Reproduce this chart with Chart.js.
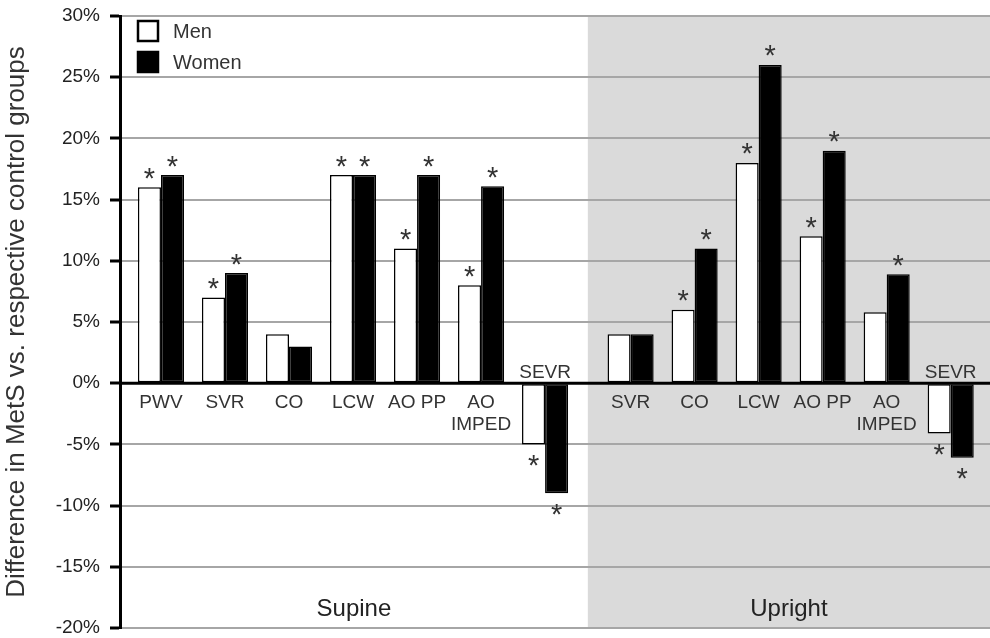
<!DOCTYPE html>
<html>
<head>
<meta charset="utf-8">
<script src="https://cdn.jsdelivr.net/npm/chart.js@4.4.0/dist/chart.umd.min.js"></script>
<style>
html,body{margin:0;padding:0;background:#fff;}
#wrap{width:990px;height:638px;position:relative;}
</style>
</head>
<body>
<div id="wrap"><canvas id="c" width="990" height="638"></canvas></div>
<script>
// ---- data ----
const categories = ['PWV','SVR','CO','LCW','AO PP','AO\nIMPED','SEVR','SVR','CO','LCW','AO PP','AO\nIMPED','SEVR'];
const positions  = ['Supine','Supine','Supine','Supine','Supine','Supine','Supine','Upright','Upright','Upright','Upright','Upright','Upright'];
const groupNames = ['Supine','Upright'];
const seriesNames = ['Men','Women'];
const menValues   = [16, 7, 4, 17, 11, 8, -5, 4, 6, 18, 12, 5.8, -4.1];
const womenValues = [17, 9, 3, 17, 17, 16.1, -9, 4, 11, 26, 19, 8.9, -6.1];
const menSignificant   = [1,1,0,1,1,1,1, 0,1,1,1,0,1];
const womenSignificant = [1,1,0,1,1,1,1, 0,1,1,1,1,1];
const yTickValues = [-20,-15,-10,-5,0,5,10,15,20,25,30];

// ---- layout (not data) ----
const GROUP_EXTRA_GAP = 0.336;
const X_MIN = -0.64, X_MAX = 12.95;
const FONT = "'Liberation Sans', Arial, sans-serif";

const xs = [];
(function(){
  let off = 0;
  for (let i = 0; i < categories.length; i++) {
    if (i > 0 && positions[i] !== positions[i-1]) off += GROUP_EXTRA_GAP;
    xs.push(i + off);
  }
})();

const sigs = [menSignificant, womenSignificant];

function drawStar(ctx, x, cy) {
  const m = ctx.measureText('*');
  const asc = m.actualBoundingBoxAscent, desc = m.actualBoundingBoxDescent;
  const base = cy + (asc - desc) / 2;
  ctx.fillText('*', x, base);
}

const annot = {
  id: 'annot',
  beforeDraw(chart) {
    const {ctx, chartArea: a, scales: {x}} = chart;
    ctx.save();
    for (let i = 1; i < categories.length; i++) {
      if (positions[i] !== positions[i-1]) {
        const split = x.getPixelForValue((xs[i-1] + xs[i]) / 2);
        ctx.fillStyle = '#dadada';
        ctx.fillRect(split, a.top, a.right - split, a.bottom - a.top);
      }
    }
    ctx.restore();
  },
  afterDatasetsDraw(chart) {
    const {ctx, chartArea: a, scales: {x, y}} = chart;
    const y0 = y.getPixelForValue(0);
    ctx.save();
    // zero line
    ctx.strokeStyle = '#000';
    ctx.lineWidth = 3;
    ctx.beginPath();
    ctx.moveTo(a.left, y0);
    ctx.lineTo(a.right, y0);
    ctx.stroke();

    // category labels
    ctx.fillStyle = '#333';
    ctx.font = '19px ' + FONT;
    ctx.textAlign = 'center';
    ctx.textBaseline = 'alphabetic';
    categories.forEach((lab, i) => {
      const cx = x.getPixelForValue(xs[i]);
      const lines = lab.split('\n');
      const neg = menValues[i] < 0 && womenValues[i] < 0;
      if (neg) {
        lines.slice().reverse().forEach((ln, k) => ctx.fillText(ln, cx, y0 - 5 - k * 22));
      } else {
        lines.forEach((ln, k) => ctx.fillText(ln, cx, y0 + 25 + k * 22));
      }
    });

    // asterisks
    ctx.font = '29px ' + FONT;
    ctx.fillStyle = '#333';
    [0, 1].forEach(d => {
      const meta = chart.getDatasetMeta(d);
      meta.data.forEach((el, i) => {
        if (!sigs[d][i]) return;
        const v = d === 0 ? menValues[i] : womenValues[i];
        const cy = v >= 0 ? el.y - 14 : el.y + 16;
        drawStar(ctx, el.x, cy);
      });
    });

    // group labels
    ctx.font = '24px ' + FONT;
    ctx.fillStyle = '#222';
    let start = 0;
    for (let i = 1; i <= categories.length; i++) {
      if (i === categories.length || positions[i] !== positions[i-1]) {
        const left = start === 0 ? a.left : x.getPixelForValue((xs[start-1] + xs[start]) / 2);
        const right = i === categories.length ? a.right : x.getPixelForValue((xs[i-1] + xs[i]) / 2);
        ctx.fillText(positions[start], (left + right) / 2, a.bottom - 12);
        start = i;
      }
    }

    // legend
    const ds = chart.data.datasets;
    ctx.font = '20px ' + FONT;
    ctx.textAlign = 'left';
    ctx.textBaseline = 'middle';
    ds.forEach((d, k) => {
      const bx = a.left + 18, by = a.top + 5 + k * 31, s = 20;
      ctx.fillStyle = d.backgroundColor;
      ctx.fillRect(bx, by, s, s);
      ctx.strokeStyle = '#000';
      ctx.lineWidth = 2.5;
      ctx.strokeRect(bx, by, s, s);
      ctx.fillStyle = '#333';
      ctx.fillText(d.label, bx + 35, by + s / 2 + 1);
    });
    ctx.restore();
  }
};

new Chart(document.getElementById('c'), {
  type: 'bar',
  data: {
    datasets: [
      { label: seriesNames[0], data: menValues.map((v, i) => ({x: xs[i], y: v})),
        backgroundColor: '#ffffff', borderColor: '#000', borderWidth: 1.5, borderSkipped: false },
      { label: seriesNames[1], data: womenValues.map((v, i) => ({x: xs[i], y: v})),
        backgroundColor: '#000000', borderColor: '#000', borderWidth: 1.5, borderSkipped: false }
    ]
  },
  options: {
    responsive: false,
    devicePixelRatio: 1,
    animation: false,
    categoryPercentage: 0.72,
    barPercentage: 1,
    layout: { padding: { top: 16, bottom: 10, left: 0, right: 0 } },
    plugins: { legend: { display: false }, tooltip: { enabled: false } },
    scales: {
      x: {
        type: 'linear', min: X_MIN, max: X_MAX, display: false, offset: false,
        afterBuildTicks: s => { s.ticks = xs.map(v => ({value: v})); }
      },
      y: {
        min: -20, max: 30,
        afterBuildTicks: s => { s.ticks = yTickValues.map(v => ({value: v})); },
        afterFit: s => { s.width = 120; s.paddingTop = 0; s.paddingBottom = 0; },
        border: { display: true, color: '#000', width: 3 },
        grid: { color: '#a6a6a6', lineWidth: 2, tickColor: '#000', tickLength: 10, tickWidth: 3 },
        ticks: { color: '#222', font: { family: FONT, size: 19, lineHeight: 1 }, padding: 10,
                 callback: v => v + '%' },
        title: { display: true, text: 'Difference in MetS vs. respective control groups',
                 color: '#333', font: { family: FONT, size: 26 }, padding: { top: 1, bottom: 1 } }
      }
    }
  },
  plugins: [annot]
});
</script>
</body>
</html>
